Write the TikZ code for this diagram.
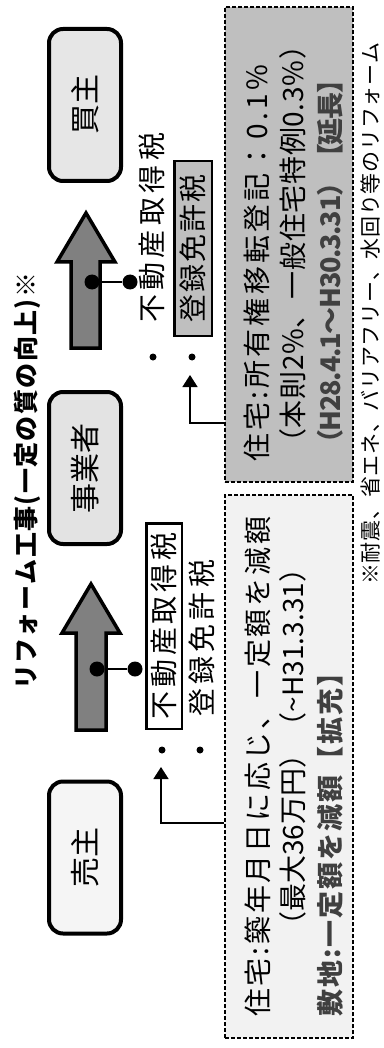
\documentclass[tikz,border=0pt]{standalone}
\usepackage{fontspec}
\setmainfont{Noto Sans CJK JP}
\usetikzlibrary{arrows.meta}
\definecolor{dgray}{HTML}{404040}
\definecolor{arrowgray}{HTML}{808080}
\definecolor{boxgray}{HTML}{BFBFBF}
\definecolor{boxlight}{HTML}{F2F2F2}
\definecolor{buyerfill}{HTML}{E6E6E6}
\definecolor{agentfill}{HTML}{E3E3E3}
\definecolor{sellerfill}{HTML}{F5F5F5}
\makeatletter
\newcommand\spreadto[2]{\hbox to #1{\spr@first#2\relax}}
\def\spr@first#1{#1\spr@next}
\def\spr@next#1{\ifx\relax#1\else\hskip0pt plus1fil minus1fil\relax#1\expandafter\spr@next\fi}
\makeatother
\begin{document}
\begin{tikzpicture}[x=1pt,y=-1pt,
  party/.style={draw=black, line width=4pt, rounded corners=14pt, rotate=90,
    minimum width=152pt, minimum height=72pt, inner sep=0pt,
    font=\fontsize{30}{34}\selectfont},
  info/.style={draw=black, line width=1.2pt, dash pattern=on 4pt off 2pt, inner sep=0pt},
  blockarrow/.style={draw=black, fill=arrowgray, line width=3.5pt, line join=miter},
  txt/.style={rotate=90, anchor=west, inner sep=0pt, font=\fontsize{28}{32}\selectfont},
  btxt/.style={rotate=90, anchor=west, inner sep=0pt, text=dgray, font=\fontsize{27}{32}\selectfont\bfseries},
  taxbox/.style={draw=black, line width=2.5pt, rotate=90, inner sep=0pt, font=\fontsize{28}{32}\selectfont},
  bigdot/.style={circle, fill=black, inner sep=0pt, minimum size=15pt},
  smalldot/.style={circle, fill=black, inner sep=0pt, minimum size=7pt},
  conn/.style={draw=black, line width=1.5pt, -{Triangle[length=12pt,width=15pt]}}]
\useasboundingbox (0,0) rectangle (383,1048);

% title
\node[rotate=90, anchor=west, inner sep=0pt, font=\fontsize{25}{28}\selectfont\bfseries] (title) at (27,690)
  {\spreadto{417pt}{リフォーム工事(一定の質の向上)※}};

% parties
\node[party, fill=buyerfill] (buyer) at (85,105) {買主};
\node[party, fill=agentfill] (agent) at (85,468) {事業者};
\node[party, fill=sellerfill] (seller) at (85,857.5) {売主};

% block arrows
\draw[blockarrow] (86,213) -- (115,262) -- (100,262) -- (100,348) -- (71,348) -- (71,262) -- (57,262) -- cycle;
\draw[blockarrow] (91,584) -- (120,633) -- (106,633) -- (106,730) -- (76,730) -- (76,633) -- (62,633) -- cycle;

% dot connectors on arrows
\node[bigdot] (d1a) at (92,282) {};
\node[bigdot] (d1b) at (130,282) {};
\draw[line width=1.5pt] (d1a) -- (d1b);
\node[bigdot] (d2a) at (97,669) {};
\node[bigdot] (d2b) at (135,669) {};
\draw[line width=1.5pt] (d2a) -- (d2b);

% upper tax labels
\node[txt] (fudo1) at (152,323) {\spreadto{190pt}{不動産取得税}};
\node[taxbox, fill=boxgray, minimum width=174.5pt, minimum height=37.5pt] (toroku1) at (193,248.5)
  {\spreadto{147pt}{登録免許税}};
\node[smalldot] (b1a) at (153,357) {};
\node[smalldot] (b1b) at (192,357) {};

% lower tax labels
\node[taxbox, fill=white, minimum width=205.5pt, minimum height=35.5pt] (fudo2) at (164,626)
  {\spreadto{187pt}{不動産取得税}};
\node[txt] (toroku2) at (202,717) {\spreadto{157pt}{登録免許税}};
\node[smalldot] (b2a) at (162,750) {};
\node[smalldot] (b2b) at (200,750) {};

% info boxes
\node[info, fill=boxgray, minimum width=128pt, minimum height=475pt] (regbox) at (289,244.5) {};
\node[info, fill=boxlight, minimum width=128pt, minimum height=543pt] (acqbox) at (289,766.5) {};

\node[txt] (r1) at (257,462) {\spreadto{397pt}{住宅:所有権移転登記：0.1\%}};
\node[txt] (r2) at (293,457) {\spreadto{425pt}{（本則2\%、一般住宅特例0.3\%）}};
\node[btxt] (r3) at (330,457) {\spreadto{390pt}{（H28.4.1～H30.3.31）【延長】}};

\node[txt] (a1) at (258,1017) {\spreadto{500pt}{住宅:築年月日に応じ、一定額を減額}};
\node[txt] (a2) at (293,940) {\spreadto{385pt}{（最大36万円）（\textasciitilde H31.3.31）}};
\node[btxt] (a3) at (330,1017) {\spreadto{357pt}{敷地:一定額を減額【拡充】}};

% connectors
\coordinate (regtip) at (190,375);
\coordinate (acqtip) at (161,767);
\draw[conn] ([yshift=-178.5pt]regbox.west) -| (regtip);
\draw[conn] ([yshift=-56.5pt]acqbox.west) -| (acqtip);

% footnote
\node[rotate=90, anchor=west, inner sep=0pt, font=\fontsize{21}{24}\selectfont] (note) at (370,585)
  {\spreadto{542pt}{※耐震、省エネ、バリアフリー、水回り等のリフォーム}};
\end{tikzpicture}
\end{document}
